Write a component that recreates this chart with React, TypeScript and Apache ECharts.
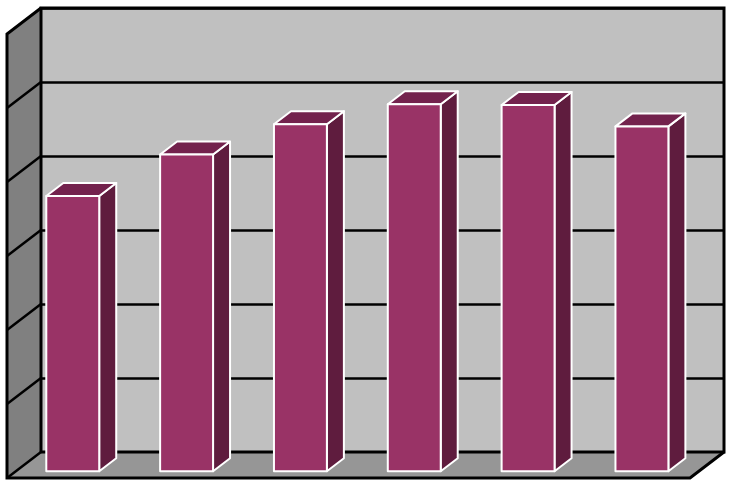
import * as echarts from 'echarts';
import { useEffect, useRef } from 'react';

// six columns, no labels shown on the original chart
const categories = ['1', '2', '3', '4', '5', '6'];
const values = [37.2, 42.8, 46.9, 49.6, 49.5, 46.6];
const yTicks = [0, 10, 20, 30, 40, 50, 60];

// 3D projection: back wall -> front edge of the floor, in pixels
const DX = -34;
const DY = 26;
const FRONT = 0.74;
const BACK = 0.24;

export default function App() {
  const chartRef = useRef<HTMLDivElement>(null);

  useEffect(() => {
    if (!chartRef.current) return;
    const chart = echarts.init(chartRef.current, null, { renderer: 'svg' });

    const frameItem = (params: any, api: any) => {
      const cs = params.coordSys;
      const x0 = cs.x;
      const x1 = cs.x + cs.width;
      const y0 = cs.y;
      const y1 = cs.y + cs.height;
      const black = { stroke: '#000', lineWidth: 3, fill: null };
      const children: any[] = [
        {
          type: 'polygon',
          shape: { points: [[x0, y0], [x0 + DX, y0 + DY], [x0 + DX, y1 + DY], [x0, y1]] },
          style: { fill: '#808080' },
        },
        {
          type: 'polygon',
          shape: { points: [[x0, y1], [x1, y1], [x1 + DX, y1 + DY], [x0 + DX, y1 + DY]] },
          style: { fill: '#969696' },
        },
      ];
      yTicks.slice(1, -1).forEach((t) => {
        const y = api.coord([0, t])[1];
        children.push({
          type: 'line',
          shape: { x1: x0, y1: y, x2: x0 + DX, y2: y + DY },
          style: { stroke: '#000', lineWidth: 2.5 },
        });
      });
      children.push(
        {
          type: 'polyline',
          shape: { points: [[x0, y1], [x0, y0], [x1, y0], [x1, y1], [x0, y1]] },
          style: black,
        },
        {
          type: 'polyline',
          shape: {
            points: [
              [x0, y0],
              [x0 + DX, y0 + DY],
              [x0 + DX, y1 + DY],
              [x1 + DX, y1 + DY],
              [x1, y1],
            ],
          },
          style: black,
        },
        {
          type: 'line',
          shape: { x1: x0, y1: y1, x2: x0 + DX, y2: y1 + DY },
          style: { stroke: '#000', lineWidth: 2.5 },
        },
      );
      return { type: 'group', children };
    };

    const barItem = (_params: any, api: any) => {
      const idx = api.value(0);
      const v = api.value(1);
      const top = api.coord([idx, v]);
      const base = api.coord([idx, 0]);
      const bw = api.size([1, 0])[0] * 0.465;
      const fx = DX * FRONT;
      const fy = DY * FRONT;
      const bx = DX * BACK;
      const by = DY * BACK;
      const L = top[0] - bw / 2;
      const R = top[0] + bw / 2;
      const edge = { stroke: '#fff', lineWidth: 2, lineJoin: 'round' };
      return {
        type: 'group',
        children: [
          {
            type: 'polygon',
            shape: {
              points: [
                [R + fx, top[1] + fy],
                [R + bx, top[1] + by],
                [R + bx, base[1] + by],
                [R + fx, base[1] + fy],
              ],
            },
            style: { fill: '#5f1c3e', ...edge },
          },
          {
            type: 'polygon',
            shape: {
              points: [
                [L + fx, top[1] + fy],
                [R + fx, top[1] + fy],
                [R + bx, top[1] + by],
                [L + bx, top[1] + by],
              ],
            },
            style: { fill: '#73224d', ...edge },
          },
          {
            type: 'rect',
            shape: { x: L + fx, y: top[1] + fy, width: bw, height: base[1] - top[1] },
            style: { fill: '#993366', ...edge },
          },
        ],
      };
    };

    chart.setOption({
      animation: false,
      backgroundColor: '#fff',
      grid: {
        left: 41,
        top: 8,
        right: 9,
        bottom: 32,
        show: true,
        backgroundColor: '#c0c0c0',
        borderWidth: 0,
      },
      xAxis: {
        type: 'category',
        data: categories,
        axisLine: { show: false },
        axisTick: { show: false },
        axisLabel: { show: false },
        splitLine: { show: false },
      },
      yAxis: {
        type: 'value',
        min: 0,
        max: 60,
        interval: 10,
        axisLine: { show: false },
        axisTick: { show: false },
        axisLabel: { show: false },
        splitLine: { lineStyle: { color: '#000', width: 2.5 } },
      },
      series: [
        {
          type: 'custom',
          renderItem: frameItem,
          data: [[0, 0]],
          clip: false,
          z: 1,
          silent: true,
        },
        {
          type: 'custom',
          renderItem: barItem,
          data: values.map((v, i) => [i, v]),
          encode: { x: 0, y: 1 },
          clip: false,
          z: 2,
        },
      ],
    });

    return () => chart.dispose();
  }, []);

  return (
    <div
      ref={chartRef}
      style={{ position: 'fixed', left: 0, top: 0, width: 733, height: 484, background: '#fff' }}
    />
  );
}
